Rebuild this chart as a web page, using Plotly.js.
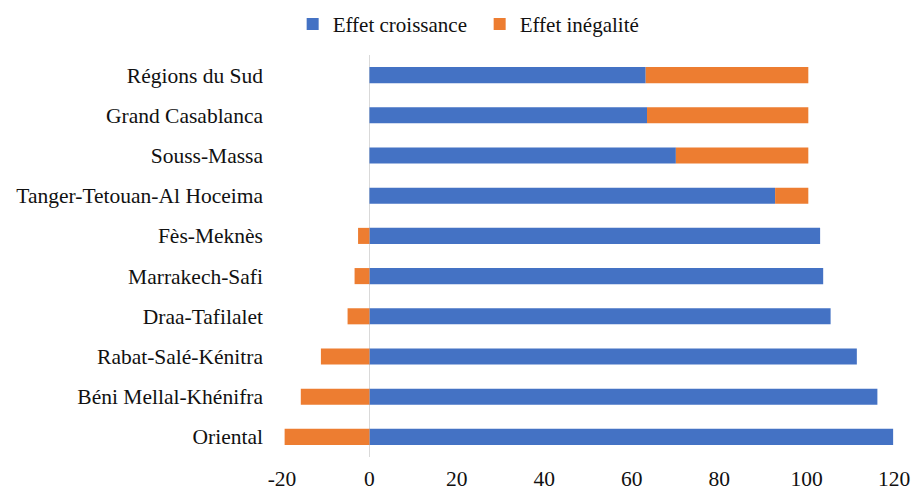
<!DOCTYPE html>
<html>
<head>
<meta charset="utf-8">
<script src="https://cdn.plot.ly/plotly-3.0.1.min.js"></script>
<style>html,body{margin:0;padding:0;background:#fff;}#chart{width:916px;height:491px;}</style>
</head>
<body>
<div id="chart"></div>
<script>
const regions = ["Régions du Sud","Grand Casablanca","Souss-Massa","Tanger-Tetouan-Al Hoceima","Fès-Meknès","Marrakech-Safi","Draa-Tafilalet","Rabat-Salé-Kénitra","Béni Mellal-Khénifra","Oriental"];
const effetCroissance = [63.2, 63.5, 70.1, 92.8, 103.1, 103.8, 105.5, 111.5, 116.2, 119.8];
const effetInegalite = [37.2, 36.9, 30.3, 7.6, -2.6, -3.4, -5.0, -11.1, -15.7, -19.4];
const xTicks = [-20, 0, 20, 40, 60, 80, 100, 120];

const font = {family: "Liberation Serif, Times New Roman, serif", size: 21.5, color: "#111"};
const legendFont = {family: "Liberation Serif, Times New Roman, serif", size: 21, color: "#111"};

const data = [
  {type: "bar", orientation: "h", name: "Effet croissance", y: regions, x: effetCroissance,
   marker: {color: "#4472C4", line: {width: 0}}},
  {type: "bar", orientation: "h", name: "Effet inégalité", y: regions, x: effetInegalite,
   marker: {color: "#ED7D31", line: {width: 0}}}
];

const layout = {
  width: 916, height: 491,
  margin: {l: 282, r: 22, t: 55, b: 34},
  paper_bgcolor: "#fff", plot_bgcolor: "#fff",
  barmode: "relative", bargap: 0.6,
  font: font,
  showlegend: true,
  legend: {orientation: "h", xref: "container", x: 0.3195, xanchor: "left", yref: "container", y: 0.992, yanchor: "top",
           font: legendFont, itemwidth: 30, entrywidth: 142, entrywidthmode: "pixels", traceorder: "normal"},
  xaxis: {range: [-20, 120], tickvals: xTicks, ticktext: xTicks.map(String), showgrid: false,
          zeroline: true, zerolinecolor: "#d9d9d9", zerolinewidth: 1.5, showline: false, ticks: "",
          ticklabelstandoff: 6, tickfont: font, fixedrange: true},
  yaxis: {type: "category", autorange: "reversed", showgrid: false, zeroline: false, showline: false, ticks: "",
          ticklabelstandoff: 18, tickfont: font, fixedrange: true}
};

Plotly.newPlot("chart", data, layout, {displayModeBar: false, staticPlot: true});
</script>
</body>
</html>
